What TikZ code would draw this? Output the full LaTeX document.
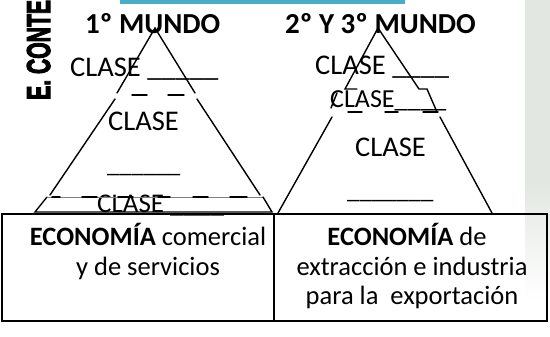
\documentclass[tikz,border=0pt]{standalone}
\usepackage{fontspec}
\usepackage{graphicx}
\setmainfont{Carlito}
\newfontfamily\heavyfont[FakeBold=4]{Liberation Sans}
\definecolor{barblue}{RGB}{75,172,198}
\definecolor{sidegray}{RGB}{226,231,225}
\begin{document}
\begin{tikzpicture}[x=1pt,y=-1pt,
  edge/.style={line width=1.4pt, line cap=round},
  txt/.style={anchor=base west, inner sep=0pt},
  title/.style={txt, font=\bfseries\fontsize{29}{34}\selectfont},
  clase/.style={txt, font=\fontsize{28.5}{34}\selectfont},
  boxtxt/.style={anchor=base, inner sep=0pt, font=\fontsize{26.5}{32}\selectfont},
  thinline/.style={gray, line width=0.6pt}]
\useasboundingbox (0,0) rectangle (550,337);
% background side strip
\fill[sidegray] (525,0) rectangle (550,180);
\fill[top color=sidegray, bottom color=white, draw=none] (525,180) rectangle (550,300);
% top bar
\fill[barblue] (120,0) rectangle (405,4);
% vertical text
\node[rotate=90, anchor=base west, inner sep=0pt] (vt) at (50,100)
  {\heavyfont\bfseries\fontsize{33}{33}\selectfont\scalebox{0.64}[1]{E. CONTE}};
% titles
\node[title] (t1) at (85,34) {1º MUNDO};
\node[title] (t2) at (285,34) {2º Y 3º MUNDO};
% left pyramid texts
\node[clase] (l1) at (70,77) {CLASE \_\_\_\_\_};
\node[clase] (l2) at (108,131) {CLASE};
\node[txt, font=\fontsize{24.5}{30}\selectfont] (l3) at (107,172) {\_\_\_\_\_\_};
\node[txt, font=\fontsize{27}{30}\selectfont] (l4) at (97,212) {CLASE \_\_\_\_};
% right pyramid texts
\node[clase] (r1) at (315,75) {CLASE \_\_\_\_};
\node[txt, font=\fontsize{26}{30}\selectfont] (r2) at (330,108) {CLASE\_\_\_\_};
\node[clase] (r3) at (355,157) {CLASE};
\node[txt, font=\fontsize{24.7}{30}\selectfont] (r4) at (347,198) {\_\_\_\_\_\_\_};
% left pyramid
\draw[edge] (117,93) -- (155,28) -- (195,93);
\draw[edge] (132,95)--(147,95) (168,95)--(184,95);
\draw[edge] (115,99) -- (50,195);
\draw[edge] (197,99) -- (260,195);
\draw[thinline] (48,197) -- (263,197);
\draw[edge] (52,197)--(60,197) (82,197)--(97,197) (118,197)--(133,197)
  (158,197)--(170,197) (193,197)--(208,197) (230,197)--(247,197);
\draw[edge] (47,197) -- (35,212) -- (272,212) -- (263,197);
% right pyramid
\draw[edge] (357,89) -- (345,89) -- (378,28) -- (419,89) -- (427,89) -- (437,112);
\draw[edge] (337,93) -- (331,108);
\draw[edge] (348,112)--(362,112) (385,112)--(398,112) (423,112)--(438,112);
\draw[edge] (332,117) -- (278,213);
\draw[edge] (440,117) -- (492,213);
% boxes
\draw[edge, line cap=butt] (2,214) rectangle (274,321);
\draw[edge, line cap=butt] (274,214) rectangle (547,321);
\node[boxtxt] (e1) at (148,246) {\textbf{ECONOMÍA} comercial};
\node[boxtxt] (e2) at (148,275) {y de servicios};
\node[boxtxt] (f1) at (407,246) {\textbf{ECONOMÍA} de};
\node[boxtxt] (f2) at (412,275) {extracción e industria};
\node[boxtxt] (f3) at (412,305) {para la\ \ exportación};
\end{tikzpicture}
\end{document}
